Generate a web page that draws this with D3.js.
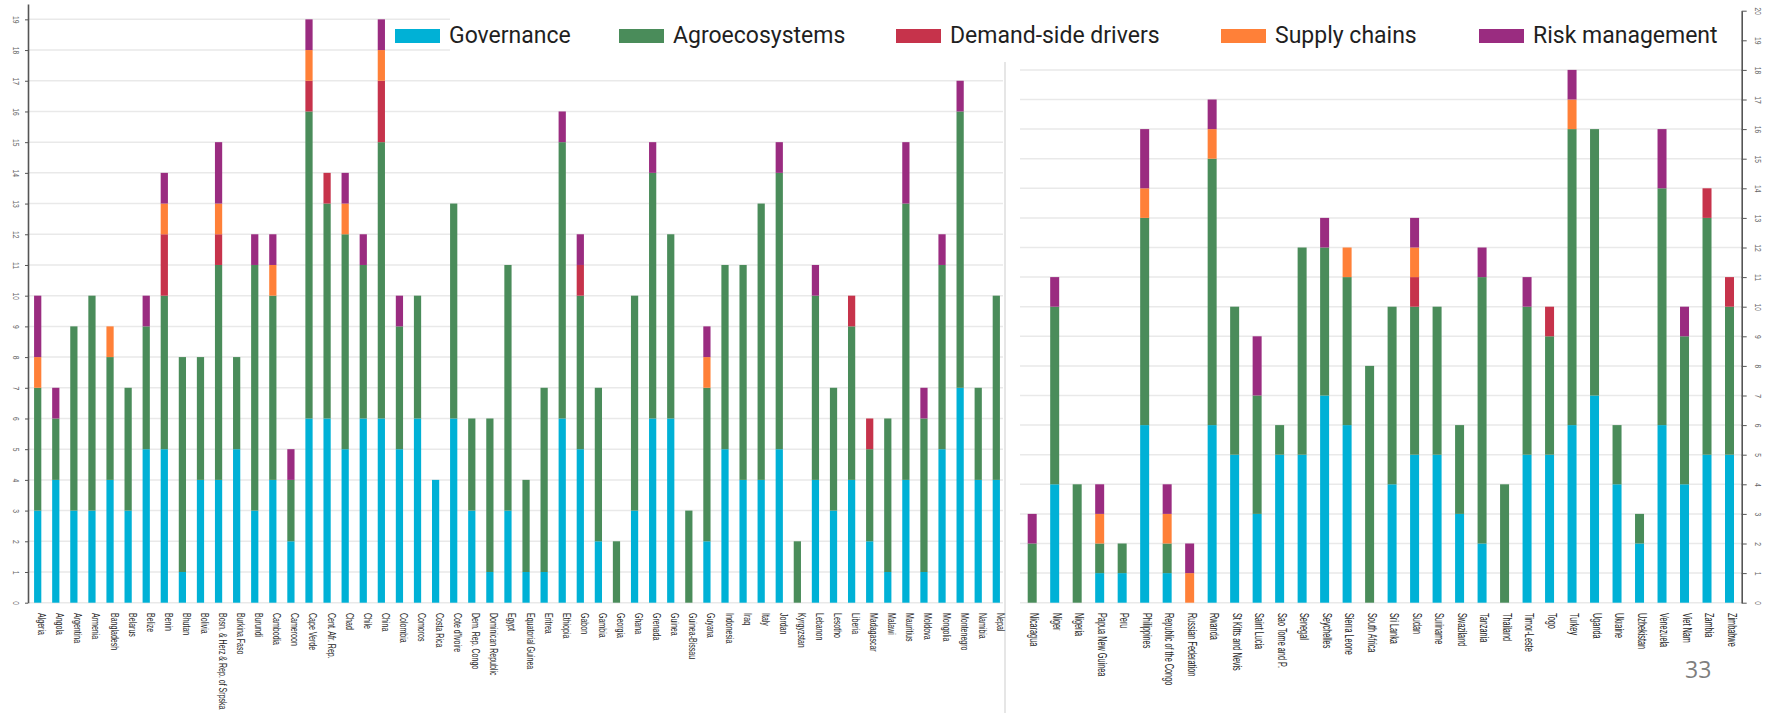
<!DOCTYPE html>
<html>
<head>
<meta charset="utf-8">
<script src="https://cdn.jsdelivr.net/npm/d3@7"></script>
<style>
  html, body { margin: 0; padding: 0; background: #fff; }
  svg { display: block; }
  .tick line { stroke: #555; }
  .domain { stroke: #555; stroke-width: 1.6; }
</style>
</head>
<body>
<div id="chart"></div>
<script>
'use strict';

const keys = ['Governance', 'Agroecosystems', 'Demand-side drivers', 'Supply chains', 'Risk management'];

const leftCountries = ['Algeria', 'Angola', 'Argentina', 'Armenia', 'Bangladesh', 'Belarus', 'Belize', 'Benin',
    'Bhutan', 'Bolivia', 'Bosn. & Herz & Rep. of Srpska', 'Burkina Faso', 'Burundi', 'Cambodia', 'Cameroon',
    'Cape Verde', 'Cent. Afr. Rep.', 'Chad', 'Chile', 'China', 'Colombia', 'Comoros', 'Costa Rica',
    'Cote d\'Ivoire', 'Dem. Rep. Congo', 'Dominican Republic', 'Egypt', 'Equatorial Guinea', 'Eritrea',
    'Ethiopia', 'Gabon', 'Gambia', 'Georgia', 'Ghana', 'Grenada', 'Guinea', 'Guinea-Bissau', 'Guyana',
    'Indonesia', 'Iraq', 'Italy', 'Jordan', 'Kyrgyzstan', 'Lebanon', 'Lesotho', 'Liberia', 'Madagascar',
    'Malawi', 'Mauritius', 'Moldova', 'Mongolia', 'Montenegro', 'Namibia', 'Nepal'];
const leftGovernance = [3, 4, 3, 3, 4, 3, 5, 5, 1, 4, 4, 5, 3, 4, 2, 6, 6, 5, 6, 6, 5, 6, 4, 6, 3, 1, 3, 1, 1,
    6, 5, 2, 0, 3, 6, 6, 0, 2, 5, 4, 4, 5, 0, 4, 3, 4, 2, 1, 4, 1, 5, 7, 4, 4];
const leftAgro = [4, 2, 6, 7, 4, 4, 4, 5, 7, 4, 7, 3, 8, 6, 2, 10, 7, 7, 5, 9, 4, 4, 0, 7, 3, 5, 8, 3, 6,
    9, 5, 5, 2, 7, 8, 6, 3, 5, 6, 7, 9, 9, 2, 6, 4, 5, 3, 5, 9, 5, 6, 9, 3, 6];
const leftDemand = [0, 0, 0, 0, 0, 0, 0, 2, 0, 0, 1, 0, 0, 0, 0, 1, 1, 0, 0, 2, 0, 0, 0, 0, 0, 0, 0, 0, 0,
    0, 1, 0, 0, 0, 0, 0, 0, 0, 0, 0, 0, 0, 0, 0, 0, 1, 1, 0, 0, 0, 0, 0, 0, 0];
const leftSupply = [1, 0, 0, 0, 1, 0, 0, 1, 0, 0, 1, 0, 0, 1, 0, 1, 0, 1, 0, 1, 0, 0, 0, 0, 0, 0, 0, 0, 0,
    0, 0, 0, 0, 0, 0, 0, 0, 1, 0, 0, 0, 0, 0, 0, 0, 0, 0, 0, 0, 0, 0, 0, 0, 0];
const leftRisk = [2, 1, 0, 0, 0, 0, 1, 1, 0, 0, 2, 0, 1, 1, 1, 1, 0, 1, 1, 1, 1, 0, 0, 0, 0, 0, 0, 0, 0,
    1, 1, 0, 0, 0, 1, 0, 0, 1, 0, 0, 0, 1, 0, 1, 0, 0, 0, 0, 2, 1, 1, 1, 0, 0];

const rightCountries = ['Nicaragua', 'Niger', 'Nigeria', 'Papua New Guinea', 'Peru', 'Philippines',
    'Republic of the Congo', 'Russian Federation', 'Rwanda', 'St Kitts and Nevis', 'Saint Lucia',
    'Sao Tome and P.', 'Senegal', 'Seychelles', 'Sierra Leone', 'South Africa', 'Sri Lanka', 'Sudan',
    'Suriname', 'Swaziland', 'Tanzania', 'Thailand', 'Timor-Leste', 'Togo', 'Turkey', 'Uganda', 'Ukraine',
    'Uzbekistan', 'Venezuela', 'Viet Nam', 'Zambia', 'Zimbabwe'];
const rightGovernance = [0, 4, 0, 1, 1, 6, 1, 0, 6, 5, 3, 5, 5, 7, 6, 0, 4, 5, 5, 3, 2, 0, 5, 5, 6, 7, 4, 2, 6, 4, 5, 5];
const rightAgro = [2, 6, 4, 1, 1, 7, 1, 0, 9, 5, 4, 1, 7, 5, 5, 8, 6, 5, 5, 3, 9, 4, 5, 4, 10, 9, 2, 1, 8, 5, 8, 5];
const rightDemand = [0, 0, 0, 0, 0, 0, 0, 0, 0, 0, 0, 0, 0, 0, 0, 0, 0, 1, 0, 0, 0, 0, 0, 1, 0, 0, 0, 0, 0, 0, 1, 1];
const rightSupply = [0, 0, 0, 1, 0, 1, 1, 1, 1, 0, 0, 0, 0, 0, 1, 0, 0, 1, 0, 0, 0, 0, 0, 0, 1, 0, 0, 0, 0, 0, 0, 0];
const rightRisk = [1, 1, 0, 1, 0, 2, 1, 1, 1, 0, 2, 0, 0, 1, 0, 0, 0, 1, 0, 0, 1, 0, 1, 0, 1, 0, 0, 0, 2, 1, 0, 0];

const leftTicks = d3.range(0, 20);
const rightTicks = d3.range(0, 21);


function color(i) {
    let colors = ['#00b1d6', '#4a8c5a', '#c6334b', '#ff8038', '#9a2c80'];
    return colors[i % colors.length];
}


function build_rows(countries, series) {
    return countries.map((name, i) => {
        let row = { name: name };
        keys.forEach((k, j) => { row[k] = series[j][i]; });
        return row;
    });
}


const dim = {
    width: 1777,
    height: 713,
    zero: 602.7,
    labelTop: 613
};

const svg = d3.select('#chart')
    .append('svg')
    .attr('width', dim.width)
    .attr('height', dim.height)
    .style('font-family', '"Liberation Sans", Arial, sans-serif');

// panel separator
svg.append('line')
    .attr('x1', 1005).attr('x2', 1005)
    .attr('y1', 60).attr('y2', dim.height)
    .attr('stroke', '#e6e6e6')
    .attr('stroke-width', 2);


function panel(opts) {
    let rows = build_rows(opts.countries, opts.series);
    let stacked = d3.stack().keys(keys)(rows);

    const xScale = d3.scaleBand()
        .range(opts.xrange)
        .domain(opts.countries)
        .paddingInner(0.6)
        .paddingOuter(opts.outer);

    const yScale = d3.scaleLinear()
        .range([dim.zero, opts.ytop])
        .domain(opts.ydomain);

    const g = svg.append('g');

    // grid
    g.append('g')
        .selectAll('line')
        .data(opts.grid)
        .enter()
        .append('line')
        .attr('x1', opts.xrange[0])
        .attr('x2', opts.gridEnd)
        .attr('y1', (d) => yScale(d))
        .attr('y2', (d) => yScale(d))
        .attr('stroke', '#e9e9e9')
        .attr('stroke-width', 1.5);

    // bars
    g.append('g')
        .selectAll('g')
        .data(stacked)
        .enter()
        .append('g')
        .attr('fill', (d, i) => color(i))
        .selectAll('rect')
        .data((d) => d)
        .enter()
        .append('rect')
        .attr('x', (d) => xScale(d.data.name))
        .attr('y', (d) => yScale(d[1]))
        .attr('height', (d) => yScale(d[0]) - yScale(d[1]))
        .attr('width', xScale.bandwidth());

    // country labels
    g.append('g')
        .selectAll('text')
        .data(opts.countries)
        .enter()
        .append('text')
        .attr('transform', (d) => 'translate(' + (xScale(d) + xScale.bandwidth() / 2 + opts.labelShift) + ',' +
            dim.labelTop + ') rotate(90) scale(' + opts.squeeze + ',1)')
        .attr('font-size', opts.labelSize)
        .attr('fill', '#262626')
        .text((d) => d);

    return yScale;
}


const yLeft = panel({
    countries: leftCountries,
    series: [leftGovernance, leftAgro, leftDemand, leftSupply, leftRisk],
    xrange: [28, 1006],
    outer: 0.336,
    ydomain: [0, 19.5],
    ytop: 4,
    grid: leftTicks,
    gridEnd: 1003,
    labelShift: 0.5,
    labelSize: 11,
    squeeze: 0.64
});

const yRight = panel({
    countries: rightCountries,
    series: [rightGovernance, rightAgro, rightDemand, rightSupply, rightRisk],
    xrange: [1020, 1741.7],
    outer: 0.342,
    ydomain: [0, 20],
    ytop: 10.7,
    grid: rightTicks.filter((t) => t <= 18),
    gridEnd: 1741.7,
    labelShift: -2,
    labelSize: 12,
    squeeze: 0.61
});

// legend background hides the top grid lines
svg.append('rect')
    .attr('x', 450).attr('y', 0)
    .attr('width', 1288).attr('height', 62)
    .attr('fill', '#fff');

// axes
let leftAxis = svg.append('g')
    .attr('transform', 'translate(28,0)')
    .call(d3.axisLeft(yLeft).tickValues(leftTicks).tickSize(3).tickSizeOuter(0));

leftAxis.selectAll('text')
    .attr('x', 0).attr('dy', 0)
    .attr('text-anchor', 'middle')
    .attr('transform', 'translate(-15,0) rotate(90) scale(0.75,1)')
    .attr('font-size', 9)
    .attr('fill', '#666');

let rightAxis = svg.append('g')
    .attr('transform', 'translate(1741.7,0)')
    .call(d3.axisRight(yRight).tickValues(rightTicks).tickSize(5).tickSizeOuter(0));

rightAxis.selectAll('text')
    .attr('x', 0).attr('dy', 0)
    .attr('text-anchor', 'middle')
    .attr('transform', 'translate(13,0) rotate(90) scale(0.75,1)')
    .attr('font-size', 9)
    .attr('fill', '#666');

rightAxis.select('.domain').attr('stroke', '#333');

// legend
const legendX = [395, 619, 896, 1221, 1479];

let legend = svg.append('g')
    .selectAll('g')
    .data(keys)
    .enter()
    .append('g')
    .attr('transform', (d, i) => 'translate(' + legendX[i] + ',0)');

legend.append('rect')
    .attr('y', 29)
    .attr('width', 45)
    .attr('height', 14)
    .attr('fill', (d, i) => color(i));

legend.append('text')
    .attr('x', 54)
    .attr('y', 43)
    .attr('font-family', 'Roboto, sans-serif')
    .attr('font-size', 23)
    .attr('fill', '#1f1f1f')
    .text((d) => d);

// page number
svg.append('text')
    .attr('x', 1685)
    .attr('y', 678)
    .attr('font-family', '"Open Sans", sans-serif')
    .attr('font-size', 23)
    .attr('fill', '#7f7f7f')
    .text('33');
</script>
</body>
</html>
